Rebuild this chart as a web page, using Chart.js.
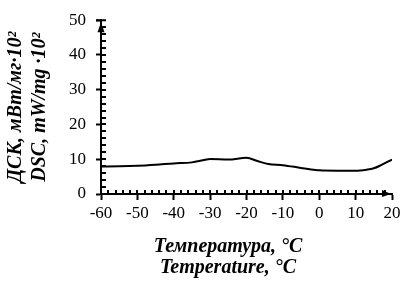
<!DOCTYPE html>
<html>
<head>
<meta charset="utf-8">
<script src="https://cdn.jsdelivr.net/npm/chart.js@4.4.1/dist/chart.umd.min.js"></script>
<style>
  html, body { margin: 0; padding: 0; background: #fff; }
  #wrap { width: 409px; height: 284px; }
</style>
</head>
<body>
<div id="wrap"><canvas id="dsc"></canvas></div>
<script>
// DSC curve
const temps = [-60, -55, -50, -45, -40, -35, -32, -30, -25, -20, -17, -14, -10, -5, -1, 0, 5, 10, 13, 15, 17, 20];
const dscVals = [7.9, 7.95, 8.1, 8.4, 8.8, 9.1, 9.7, 10.1, 9.9, 10.4, 9.5, 8.6, 8.3, 7.5, 6.9, 6.8, 6.7, 6.7, 7.0, 7.4, 8.3, 9.9];
const xTicks = [-60, -50, -40, -30, -20, -10, 0, 10, 20];
const yTicks = [0, 10, 20, 30, 40, 50];
const xTitle = ['Температура, °C', 'Temperature, °C'];
const yTitle = ['ДСК, мВт/мг·10²', 'DSC, mW/mg ·10²'];

const points = temps.map((t, i) => ({ x: t, y: dscVals[i] }));

// minor ticks (inside), arrow heads and the x title
const axisExtras = {
  id: 'axisExtras',
  afterDraw(chart) {
    const c = chart.ctx;
    const xs = chart.scales.x, ys = chart.scales.y;
    const x0 = xs.getPixelForValue(-60);
    const y0 = ys.getPixelForValue(0);
    c.save();
    c.strokeStyle = '#000';
    c.fillStyle = '#000';
    c.lineWidth = 2;
    c.beginPath();
    for (let v = -58; v < 20; v += 2) {
      const px = Math.round(xs.getPixelForValue(v));
      c.moveTo(px, y0);
      c.lineTo(px, y0 - 4);
    }
    for (let v = 2; v < 50; v += 2) {
      const py = Math.round(ys.getPixelForValue(v));
      c.moveTo(x0, py);
      c.lineTo(x0 + 5, py);
    }
    const yTop = ys.getPixelForValue(50);
    c.moveTo(x0 - 5, yTop);
    c.lineTo(x0 + 5, yTop);
    c.stroke();

    // arrow up on y axis
    c.beginPath();
    c.moveTo(x0, yTop + 2);
    c.lineTo(x0 - 3.5, yTop + 12);
    c.lineTo(x0 + 3.5, yTop + 12);
    c.closePath();
    c.fill();

    // arrow right on x axis
    const xEnd = xs.getPixelForValue(20);
    c.beginPath();
    c.moveTo(xEnd - 1, y0);
    c.lineTo(xEnd - 10, y0 - 4);
    c.lineTo(xEnd - 10, y0 + 3);
    c.closePath();
    c.fill();

    // x title, a bit left of the plot centre like the original
    c.font = 'italic bold 20px "Liberation Serif"';
    c.textAlign = 'center';
    c.textBaseline = 'middle';
    c.fillText(xTitle[0], 228, 247);
    c.fillText(xTitle[1], 228, 268);
    c.restore();
  }
};

new Chart(document.getElementById('dsc'), {
  type: 'line',
  data: {
    datasets: [{
      data: points,
      borderColor: '#000',
      borderWidth: 2,
      pointRadius: 0,
      tension: 0.4,
      cubicInterpolationMode: 'monotone',
      fill: false
    }]
  },
  options: {
    responsive: true,
    maintainAspectRatio: false,
    animation: false,
    layout: { padding: { top: 13, right: 17, left: 0, bottom: 0 } },
    plugins: { legend: { display: false }, tooltip: { enabled: false } },
    scales: {
      x: {
        type: 'linear',
        min: -60,
        max: 20,
        afterBuildTicks: s => { s.ticks = xTicks.map(v => ({ value: v })); },
        afterFit: s => { s.height = 90; },
        border: { color: '#000', width: 2 },
        grid: { drawOnChartArea: false, color: '#000', tickLength: 6, tickWidth: 2 },
        ticks: {
          color: '#000',
          padding: 3,
          maxRotation: 0,
          font: { family: 'Liberation Serif', size: 17 }
        }
      },
      y: {
        min: 0,
        max: 50,
        afterBuildTicks: s => { s.ticks = yTicks.map(v => ({ value: v })); },
        afterFit: s => { s.width = 101; },
        border: { color: '#000', width: 2 },
        grid: { drawOnChartArea: false, color: '#000', tickLength: 5, tickWidth: 2 },
        ticks: {
          color: '#000',
          padding: 10,
          font: { family: 'Liberation Serif', size: 17 }
        },
        title: {
          display: true,
          text: yTitle,
          color: '#000',
          padding: { top: 4, bottom: 0 },
          font: { family: 'Liberation Serif', size: 20, style: 'italic', weight: 'bold', lineHeight: 1.2 }
        }
      }
    }
  },
  plugins: [axisExtras]
});
</script>
</body>
</html>
